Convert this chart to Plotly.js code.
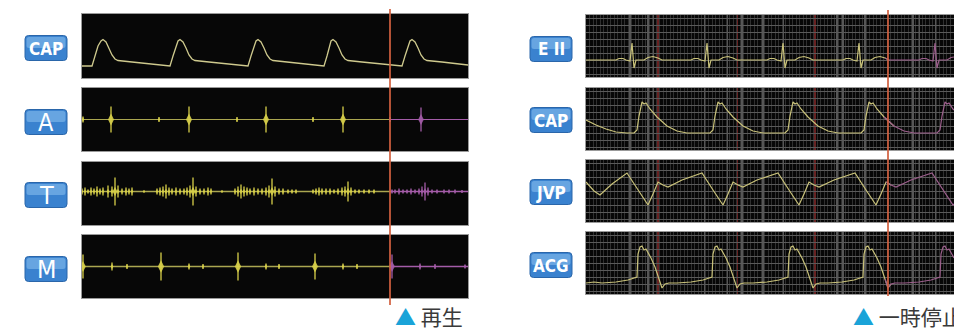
<!DOCTYPE html>
<html><head><meta charset="utf-8">
<script src="https://cdn.plot.ly/plotly-3.0.1.min.js"></script>
<style>html,body{margin:0;padding:0;background:#fff}#chart{width:954px;height:332px}</style>
</head><body><div id="chart"></div>
<script>
// ---------- DATA (time index, value) ----------
const leftLabels  = ['CAP', 'A', 'T', 'M'];
const rightLabels = ['E II', 'CAP', 'JVP', 'ACG'];
const captionText = ['再生', '一時停止'];

const cursorLeft  = 308;   // playback cursor, left display
const cursorRight = 302;   // pause cursor, right display

// left CAP (carotid pulse)
const capLeft = [[0,12],[10,12],[13,22],[16,32],[19,37],[21,38.5],[24,36],[27,30],[30,23],[33,19],[36,17.5],[50,16],[70,14],[86,12],
 [88,12],[91,22],[94,32],[96,37],[98,38.5],[101,36],[104,30],[107,23],[110,19],[113,17.5],[127,16],[147,14],[164,12],
 [166,12],[169,22],[172,32],[174,37],[176,38.5],[179,36],[182,30],[185,23],[188,19],[191,17.5],[205,16],[225,14],[240,12],
 [242,12],[245,22],[248,32],[249,37],[251,38.5],[254,36],[257,30],[260,23],[263,19],[266,17.5],[280,16],[300,14],[318,12],
 [320,12],[323,22],[326,32],[328,37],[330,38.5],[333,36],[336,30],[339,23],[342,19],[345,17.5],[360,16],[386,13]];

// A (apex sound) bursts
const aTimes = [1, 29, 77, 107, 155, 184, 231, 261, 308, 339];
const aAmps  = [3, 13, 2.5, 13, 2.5, 13, 2.5, 13, 2.5, 12];

// T (tricuspid sound) bursts
const tTimes = [0,3,6,9,12,15,18,21,26,30,33,36,40,44,47,50,62,
  75,78,81,84,87,90,94,98,102,105,108,111,114,118,122,126,129,140,
  153,156,159,162,165,168,172,176,180,184,187,190,193,197,201,206,210,214,
  231,234,237,240,244,248,252,256,260,263,266,269,273,277,282,287,292,
  310,313,317,321,325,329,333,337,340,343,346,350,355,362,367,373,380];
const tAmps  = [3,4,2,4,3,5,3,4,6,5,14,6,3,4,3,4,1,
  3,4,5,7,4,3,4,3,3,4,6,14,5,3,3,4,3,1,
  3,5,7,5,4,3,4,3,3,4,6,13,5,3,3,2,2,2,
  2,3,4,3,3,3,2,3,4,5,10,4,2,2,2,2,2,
  2,2,3,2,2,3,2,3,5,9,4,2,2,2,2,2,1.5];

// M (mitral sound) bursts
const mTimes = [1, 30, 45, 79, 107, 121, 156, 184, 197, 233, 261, 275, 310, 338, 353, 383];
const mAmps  = [12, 4, 2.5, 14, 3, 2.5, 14, 3, 2.5, 13, 3, 2.5, 12, 3, 2.5, 2];

// right display
const ecg2 = [[0,17],[30,17],[33,18.5],[37,18.5],[40,17],[44,16],[46,34],[48,9],[50,17],[58,17],[62,19.5],[67,20.5],[72,19],[76,17],
 [105,17],[108,18.5],[112,18.5],[115,17],[119,16],[121,34],[123,9],[125,17],[133,17],[137,19.5],[142,20.5],[147,19],[151,17],
 [181,17],[184,18.5],[188,18.5],[191,17],[195,16],[197,34],[199,9],[201,17],[209,17],[213,19.5],[218,20.5],[223,19],[227,17],
 [257,17],[260,18.5],[264,18.5],[267,17],[271,16],[273,34],[275,9],[277,17],[285,17],[289,19.5],[294,20.5],[299,19],[303,17],
 [333,17],[336,18.5],[340,18.5],[343,17],[347,16],[349,34],[351,9],[353,17],[361,17],[365,19.5],[368,20]];

const capRight = [[0,30],[10,25],[20,21],[30,18],[41,17],[48,17],
 [51,20],[53,34],[56,48],[58,46],[60,47],[64,41],[71,33],[81,24],[91,19],[101,17],[124,17],
 [127,20],[129,34],[132,48],[134,46],[136,47],[140,41],[147,33],[157,24],[167,19],[177,17],[199,17],
 [202,20],[204,34],[207,48],[209,46],[211,47],[215,41],[222,33],[232,24],[242,19],[252,17],[275,17],
 [278,20],[280,34],[283,48],[285,46],[287,47],[291,41],[298,33],[308,24],[318,19],[328,17],[351,17],
 [354,20],[356,34],[359,48],[361,46],[363,47],[367,41],[368,40]];

const jvp = [[0,40],[8,31],[14,27],[26,38],[41,49],[52,32],[62,17],[67,28],[72,40],[77,37],[82,35],[96,42],
 [116,49],[127,32],[137,17],[142,28],[147,40],[152,37],[157,35],[171,42],
 [192,49],[203,32],[213,17],[218,28],[223,40],[228,37],[233,35],[248,42],
 [269,49],[280,32],[290,17],[295,28],[300,40],[305,37],[310,35],[325,42],
 [346,49],[357,32],[367,17],[368,18]];

const acg = [[0,11],[8,12],[16,11],[30,12],[42,14],[48,16],[51,17],[52,40],[54,47],[56,48],[58,44],[60,45],[65,36],[69,27],[73,15],[76,6],[79,10],[83,11],
 [91,11],[105,12],[117,14],[123,16],[126,17],[127,40],[129,47],[131,48],[133,44],[135,45],[140,36],[144,27],[148,15],[151,6],[154,10],[158,11],
 [167,11],[181,12],[193,14],[199,16],[202,17],[203,40],[205,47],[207,48],[209,44],[211,45],[216,36],[220,27],[224,15],[227,6],[230,10],[234,11],
 [242,11],[256,12],[268,14],[274,16],[277,17],[278,40],[280,47],[282,48],[284,44],[286,45],[291,36],[295,27],[299,15],[302,6],[305,10],[309,11],
 [319,11],[333,12],[345,14],[351,16],[354,17],[355,40],[357,47],[359,48],[361,44],[363,45],[368,36]];

// chart-paper marker lines on the right display
const gridBright = [44, 62, 67, 119, 141, 156, 177, 197, 251, 257, 279, 327, 333, 350];
const gridRed    = [72, 151, 229];

// ---------- STYLE ----------
const W = 954, H = 332;
const px = v => v / W, py = v => 1 - v / H;
const leftX  = [px(82), px(468)];
const rightX = [px(586), 1];
const leftY  = [[14,78],[88,151],[162,225],[235,298]];
const rightY = [[15,77],[88,150],[160,222],[232,294]];
const leftLabelY  = [48, 122, 195, 269];
const rightLabelY = [49, 120, 192, 265];

const YEL = '#d8d04a', YEL_LINE = '#aaa650', CAP_COL = '#cfca8e', PUR = '#a45ca8';
const R_BEFORE = '#c9c27a', R_AFTER = '#9c5f8c';

const sfx = i => (i === 1 ? '' : String(i));
const traces = [];

function splitLine(pts, cut) {
  const before = [], after = [];
  pts.forEach(p => {
    if (p[0] <= cut) before.push(p);
    if (p[0] >= cut) after.push(p);
  });
  const firstAfter = pts.find(p => p[0] > cut);
  if (firstAfter) before.push(firstAfter);
  const lastBefore = [...pts].reverse().find(p => p[0] < cut);
  if (lastBefore) after.unshift(lastBefore);
  return [before, after];
}
function lineTrace(pts, i, color, w) {
  return { type: 'scatter', mode: 'lines', x: pts.map(p => p[0]), y: pts.map(p => p[1]),
    xaxis: 'x' + sfx(i), yaxis: 'y' + sfx(i), line: { color, width: w }, hoverinfo: 'skip', showlegend: false };
}
function burstTrace(times, amps, i, color, base, sizeK) {
  return { type: 'scatter', mode: 'markers', x: times, y: times.map(() => base),
    xaxis: 'x' + sfx(i), yaxis: 'y' + sfx(i),
    marker: { symbol: 'diamond-tall', size: amps.map(a => 2 + a * sizeK), color, opacity: 0.9, line: { width: 0 } },
    error_y: { type: 'data', array: amps, symmetric: true, visible: true, color, thickness: 1.3, width: 0 },
    hoverinfo: 'skip', showlegend: false };
}
function bursts(times, amps, i, base, sizeK, lineW) {
  traces.push(lineTrace([[0, base], [cursorLeft, base]], i, YEL_LINE, lineW));
  traces.push(lineTrace([[cursorLeft, base], [386, base]], i, PUR, lineW));
  const bt = [], ba = [], at = [], aa = [];
  times.forEach((t, k) => { if (t < cursorLeft) { bt.push(t); ba.push(amps[k]); } else { at.push(t); aa.push(amps[k]); } });
  traces.push(burstTrace(bt, ba, i, YEL, base, sizeK));
  traces.push(burstTrace(at, aa, i, PUR, base, sizeK));
}

// left display
traces.push(lineTrace(capLeft, 1, CAP_COL, 1.3));
bursts(aTimes, aAmps, 2, 0, 0.5, 1);
bursts(tTimes, tAmps, 3, 2, 0.35, 1.4);
bursts(mTimes, mAmps, 4, 0, 0.5, 1.3);

// right display
[ecg2, capRight, jvp, acg].forEach((pts, k) => {
  const [b, a] = splitLine(pts, cursorRight);
  traces.push(lineTrace(b, 5 + k, R_BEFORE, 1.2));
  traces.push(lineTrace(a, 5 + k, R_AFTER, 1.2));
});

const layout = {
  width: W, height: H, margin: { l: 0, r: 0, t: 0, b: 0 },
  paper_bgcolor: '#ffffff', plot_bgcolor: '#070707', showlegend: false,
  shapes: [], annotations: []
};
for (let i = 1; i <= 8; i++) {
  const left = i <= 4;
  const yd = left ? leftY[i - 1] : rightY[i - 5];
  layout['xaxis' + sfx(i)] = {
    domain: left ? leftX : rightX, anchor: 'y' + sfx(i),
    range: left ? [0, 386] : [0, 368], fixedrange: true,
    showticklabels: false, ticks: '', zeroline: false,
    showgrid: !left, dtick: 3.5, tick0: 0, gridcolor: '#2f2f2f', gridwidth: 1,
    showline: true, mirror: true, linecolor: '#9a9a9a', linewidth: 1
  };
  layout['yaxis' + sfx(i)] = {
    domain: [py(yd[1]), py(yd[0])], anchor: 'x' + sfx(i),
    range: left ? (i === 1 ? [0, 64] : [-31.5, 31.5]) : [0, 62], fixedrange: true,
    showticklabels: false, ticks: '', zeroline: false,
    showgrid: !left, dtick: 7, tick0: 3, gridcolor: '#5a5a5a', gridwidth: 1,
    showline: true, mirror: true, linecolor: '#9a9a9a', linewidth: 1
  };
  if (!left) {
    gridBright.forEach(t => layout.shapes.push({ type: 'line', xref: 'x' + sfx(i), yref: 'y' + sfx(i) + ' domain',
      x0: t, x1: t, y0: 0, y1: 1, line: { color: '#8c8c8c', width: 1.2 }, layer: 'below' }));
    gridRed.forEach(t => layout.shapes.push({ type: 'line', xref: 'x' + sfx(i), yref: 'y' + sfx(i) + ' domain',
      x0: t, x1: t, y0: 0, y1: 1, line: { color: '#8a2c2c', width: 1.5 }, layer: 'below' }));
  }
}
// cursors
layout.shapes.push({ type: 'line', xref: 'x', yref: 'paper', x0: cursorLeft, x1: cursorLeft,
  y0: py(305), y1: py(9), line: { color: '#d2603f', width: 2 }, opacity: 0.85 });
layout.shapes.push({ type: 'line', xref: 'x5', yref: 'paper', x0: cursorRight, x1: cursorRight,
  y0: py(296), y1: py(10), line: { color: '#d2603f', width: 2 }, opacity: 0.85 });

// channel buttons (rounded, two-tone)
function rrPath(x0, y0, x1, y1, r) {
  const P = (x, y) => px(x) + ',' + py(y);
  return 'M' + P(x0 + r, y0) + ' L' + P(x1 - r, y0) + ' Q' + P(x1, y0) + ' ' + P(x1, y0 + r) +
    ' L' + P(x1, y1 - r) + ' Q' + P(x1, y1) + ' ' + P(x1 - r, y1) +
    ' L' + P(x0 + r, y1) + ' Q' + P(x0, y1) + ' ' + P(x0, y1 - r) +
    ' L' + P(x0, y0 + r) + ' Q' + P(x0, y0) + ' ' + P(x0 + r, y0) + ' Z';
}
function button(text, cx, cy) {
  const single = text.length === 1;
  const x0 = cx - 21, x1 = cx + 21, y0 = cy - 12.5, y1 = cy + 12.5;
  layout.shapes.push({ type: 'path', xref: 'paper', yref: 'paper', path: rrPath(x0, y0, x1, y1, 3.5),
    fillcolor: '#3a82cf', line: { color: '#2a66aa', width: 1 } });
  layout.shapes.push({ type: 'path', xref: 'paper', yref: 'paper', path: rrPath(x0 + 1.5, y0 + 1.5, x1 - 1.5, cy, 2.5),
    fillcolor: '#8cc2f0', opacity: 0.55, line: { width: 0 } });
  layout.annotations.push({ xref: 'paper', yref: 'paper', x: px(cx), y: py(cy + 0.5), xanchor: 'center', yanchor: 'middle',
    text, showarrow: false,
    font: { family: 'Liberation Sans Narrow, DejaVu Sans Condensed, Arial', size: single ? 25 : 17,
            color: '#ffffff', weight: single ? 'normal' : 'bold' } });
}
leftLabels.forEach((t, k) => button(t, 46, leftLabelY[k]));
rightLabels.forEach((t, k) => button(t, 551, rightLabelY[k]));

// captions
[[393, captionText[0]], [851, captionText[1]]].forEach(([x, t]) => {
  layout.annotations.push({ xref: 'paper', yref: 'paper', x: px(x), y: py(316), xanchor: 'left', yanchor: 'middle',
    showarrow: false, text: '<span style="color:#1aa3d8">▲</span> ' + t,
    font: { family: 'Noto Sans CJK JP', size: 21, color: '#3a3a3a' } });
});

Plotly.newPlot('chart', traces, layout, { staticPlot: true, displayModeBar: false });
</script></body></html>
